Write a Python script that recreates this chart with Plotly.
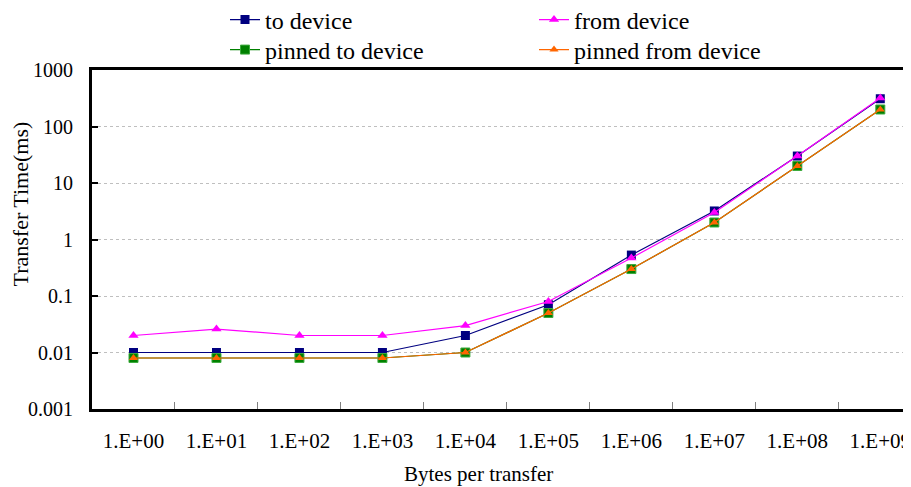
import plotly.graph_objects as go

categories = ["1.E+00", "1.E+01", "1.E+02", "1.E+03", "1.E+04",
              "1.E+05", "1.E+06", "1.E+07", "1.E+08", "1.E+09"]
to_device = [0.01, 0.01, 0.01, 0.01, 0.02, 0.07, 0.53, 3.2, 30, 310]
from_device = [0.02, 0.026, 0.02, 0.02, 0.03, 0.08, 0.47, 3.0, 30, 320]
pinned_to_device = [0.008, 0.008, 0.008, 0.008, 0.01, 0.05, 0.3, 2.0, 20, 200]
pinned_from_device = [0.008, 0.008, 0.008, 0.008, 0.01, 0.05, 0.3, 2.0, 20, 200]

y_tickvals = [0.001, 0.01, 0.1, 1, 10, 100, 1000]
y_ticktext = ["0.001", "0.01", "0.1", "1", "10", "100", "1000"]

FONT = "Liberation Serif"
W, H = 903, 479          # page body has an 8px margin
OFF = 8                   # page offset of the figure div

fig = go.Figure()
fig.add_trace(go.Scatter(
    x=categories, y=to_device, name="to device", mode="lines+markers",
    line=dict(color="#000080", width=1.2),
    marker=dict(symbol="square", size=9, color="#000080"),
    legend="legend"))
fig.add_trace(go.Scatter(
    x=categories, y=from_device, name="from device", mode="lines+markers",
    line=dict(color="#FF00FF", width=1.2),
    marker=dict(symbol="triangle-up", size=9, color="#FF00FF"),
    legend="legend2"))
fig.add_trace(go.Scatter(
    x=categories, y=pinned_to_device, name="pinned to device", mode="lines+markers",
    line=dict(color="#008000", width=1.2),
    marker=dict(symbol="square", size=9, color="#008000",
                line=dict(color="#3DAA3D", width=1)),
    legend="legend3"))
fig.add_trace(go.Scatter(
    x=categories, y=pinned_from_device, name="pinned from device", mode="lines+markers",
    line=dict(color="#FF6600", width=1.2),
    marker=dict(symbol="triangle-up", size=8, color="#FF6600"),
    legend="legend4"))


def leg(text_x, center_y):
    return dict(xref="container", yref="container",
                x=(text_x - OFF - 40) / W, y=1 - (center_y - OFF) / H,
                xanchor="left", yanchor="middle", orientation="v",
                font=dict(family=FONT, size=24, color="black"),
                bgcolor="rgba(0,0,0,0)", borderwidth=0)


fig.update_layout(
    width=W, height=H,
    margin=dict(l=92 - OFF, r=0, t=70 - OFF, b=H - (409 - OFF), pad=0, autoexpand=False),
    paper_bgcolor="white", plot_bgcolor="white",
    font=dict(family=FONT, size=20, color="black"),
    showlegend=True,
    legend=leg(265, 20),
    legend2=leg(574, 20),
    legend3=leg(265, 50),
    legend4=leg(574, 50),
    xaxis=dict(
        type="category", range=[-0.5, 9.37], automargin=False,
        showline=True, linecolor="black", linewidth=3, mirror=True,
        ticks="inside", ticklen=7, tickcolor="#808080", tickwidth=1,
        tickson="boundaries", showgrid=False, zeroline=False,
        tickangle=0,
        tickfont=dict(family=FONT, size=21, color="black"),
        ticklabelstandoff=11),
    yaxis=dict(
        type="log", range=[-3, 3], automargin=False,
        tickvals=y_tickvals, ticktext=y_ticktext,
        showline=True, linecolor="black", linewidth=3, mirror=False,
        ticks="inside", ticklen=6, tickcolor="black", tickwidth=2,
        showgrid=True, gridcolor="#BFBFBF", griddash="dot", gridwidth=1,
        zeroline=False,
        tickfont=dict(family=FONT, size=20, color="black"),
        ticklabelstandoff=12),
    annotations=[
        dict(text="Bytes per transfer", xref="paper", yref="paper",
             x=(478 - 92) / 819, y=-(474 - 409) / 339, xanchor="center", yanchor="middle",
             showarrow=False, font=dict(family=FONT, size=21, color="black")),
        dict(text="Transfer Time(ms)", xref="paper", yref="paper",
             x=-(92 - 20) / 819, y=(409 - 204.5) / 339, xanchor="center", yanchor="middle",
             textangle=-90, showarrow=False,
             font=dict(family=FONT, size=22, color="black")),
    ],
)

fig.write_html("out.html")
